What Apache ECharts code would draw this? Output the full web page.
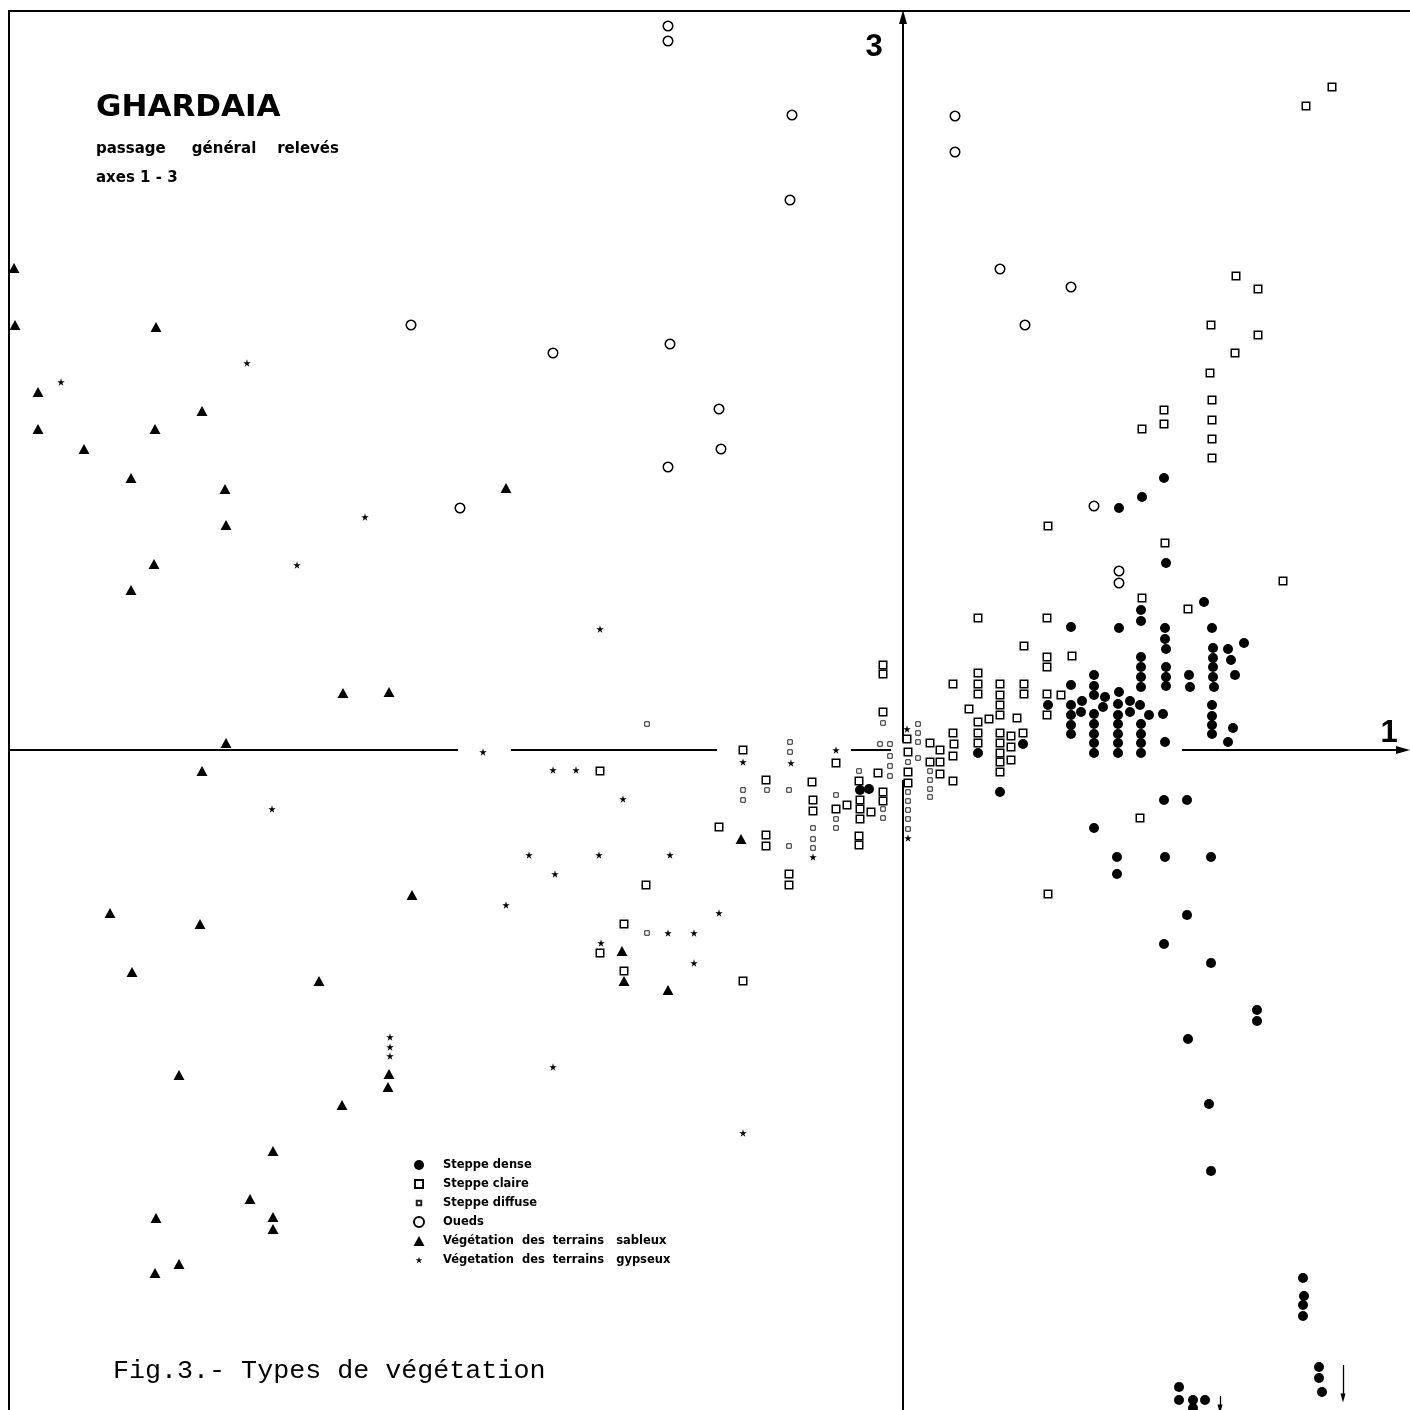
<!DOCTYPE html>
<html>
<head>
<meta charset="utf-8">
<script src="https://cdn.jsdelivr.net/npm/echarts@6/dist/echarts.min.js"></script>
<style>
  html, body { margin: 0; padding: 0; background: #fff; }
  #chart { width: 1410px; height: 1410px; }
</style>
</head>
<body>
<div id="chart"></div>
<script>
// Vegetation types (legend order)
const typeNames = [
  'Steppe dense',
  'Steppe claire',
  'Steppe diffuse',
  'Oueds',
  'Végétation  des  terrains   sableux',
  'Végetation  des  terrains   gypseux'
];

// Relevé scores on factorial axes 1 (horizontal) and 3 (vertical)
const steppeDense = [
  [2.61,2.72],[2.39,2.53],[2.16,2.42],[2.63,1.87],[3.01,1.48],[2.38,1.40],[2.38,1.29],
  [1.68,1.23],[2.16,1.22],[2.62,1.22],[2.62,1.11],[2.63,1.01],[3.09,1.22],[3.41,1.07],
  [3.10,1.02],[3.25,1.01],[3.10,0.92],[3.28,0.90],[3.10,0.83],[3.10,0.73],[3.11,0.63],
  [3.32,0.75],[2.38,0.93],[2.38,0.83],[2.38,0.73],[2.38,0.63],[2.63,0.83],[2.63,0.73],
  [2.63,0.64],[2.86,0.75],[2.87,0.63],[1.91,0.75],[1.91,0.64],[1.91,0.55],[1.68,0.65],
  [2.16,0.58],[2.02,0.53],[1.79,0.49],[1.45,0.45],[1.68,0.45],[2.27,0.49],[2.37,0.45],
  [2.00,0.43],[2.15,0.46],[1.78,0.38],[2.27,0.38],[1.68,0.35],[1.91,0.36],[2.15,0.35],
  [2.46,0.35],[2.60,0.36],[3.09,0.45],[3.09,0.34],[3.09,0.25],[3.09,0.16],[3.30,0.22],
  [3.25,0.08],[1.68,0.25],[1.68,0.16],[1.91,0.26],[1.91,0.16],[1.91,0.07],[1.91,-0.03],
  [2.15,0.26],[2.15,0.16],[2.15,0.07],[2.15,-0.03],[2.38,0.26],[2.38,0.16],[2.38,0.07],
  [2.38,-0.03],[2.62,0.08],[1.20,0.06],[0.75,-0.03],[0.97,-0.42],[-0.43,-0.40],[-0.34,-0.39],
  [2.61,-0.50],[2.84,-0.50],[1.91,-0.78],[2.14,-1.07],[2.62,-1.07],[3.08,-1.07],[2.14,-1.24],
  [2.84,-1.65],[2.61,-1.94],[3.08,-2.13],[3.54,-2.60],[3.54,-2.71],[2.85,-2.89],[3.06,-3.54],
  [3.08,-4.21],[4.00,-5.28],[4.01,-5.46],[4.00,-5.55],[4.00,-5.66],[4.16,-6.17],[4.16,-6.28],
  [4.19,-6.42],[2.76,-6.37],[2.76,-6.50],[2.90,-6.50],[3.02,-6.50],[2.90,-6.58]
];

const steppeClaire = [
  [4.29,6.63],[4.03,6.44],[3.33,4.74],[3.55,4.61],[3.08,4.25],[3.55,4.15],[3.32,3.97],
  [3.07,3.77],[3.09,3.50],[3.09,3.30],[3.09,3.11],[3.09,2.92],[2.61,3.40],[2.61,3.26],
  [2.39,3.21],[1.45,2.24],[2.62,2.07],[3.80,1.69],[2.39,1.52],[2.85,1.41],
  [0.75,1.32],[1.44,1.32],[1.21,1.04],[1.44,0.93],[1.44,0.83],[1.69,0.94],[0.75,0.77],
  [0.75,0.66],[0.75,0.56],[0.50,0.66],[0.97,0.66],[0.97,0.55],[0.97,0.45],[0.97,0.35],
  [1.21,0.66],[1.21,0.56],[1.44,0.56],[1.58,0.55],[1.44,0.35],[0.66,0.41],[0.86,0.31],
  [1.14,0.32],[0.75,0.28],[0.75,0.17],[0.75,0.07],[0.97,0.17],[0.97,0.07],[0.97,-0.03],
  [0.97,-0.12],[0.97,-0.22],[1.08,0.14],[1.08,0.03],[1.08,-0.10],[1.20,0.17],[0.50,0.17],
  [0.51,0.06],[0.50,-0.06],[0.50,-0.31],[0.27,0.07],[0.37,0.00],[0.27,-0.12],[0.37,-0.12],
  [0.37,-0.24],[0.04,0.11],[0.05,-0.02],[0.05,-0.22],[0.05,-0.33],[2.37,-0.68],[1.45,-1.44],
  [-0.20,0.85],[-0.20,0.76],[-0.20,0.38],[-0.25,-0.23],[-0.44,-0.31],[-0.20,-0.42],[-0.20,-0.51],
  [-0.43,-0.50],[-0.43,-0.59],[-0.43,-0.69],[-0.56,-0.55],[-0.32,-0.62],[-0.67,-0.59],[-0.44,-0.86],
  [-0.44,-0.95],[-0.67,-0.13],[-1.60,0.00],[-1.37,-0.30],[-0.91,-0.32],[-0.90,-0.50],[-0.90,-0.61],
  [-1.84,-0.77],[-1.37,-0.85],[-1.37,-0.96],[-1.14,-1.24],[-1.14,-1.35],
  [-3.03,-0.21],[-2.57,-1.35],[-2.79,-1.74],[-3.03,-2.03],[-2.79,-2.21],[-1.60,-2.31]
];

const steppeDiffuse = [
  [-2.56,0.26],[-2.56,-1.83],[-0.20,0.27],[0.15,0.26],[0.15,0.17],[0.15,0.08],[0.15,-0.08],
  [0.05,-0.12],[0.05,-0.42],[0.05,-0.51],[0.05,-0.60],[0.05,-0.69],[0.05,-0.79],[0.27,-0.21],
  [0.27,-0.30],[0.27,-0.39],[0.27,-0.47],[-0.23,0.06],[-0.13,0.06],[-0.13,-0.06],[-0.13,-0.16],
  [-0.13,-0.26],[-0.44,-0.21],[-0.20,-0.59],[-0.20,-0.68],[-0.67,-0.69],[-0.67,-0.78],[-0.67,-0.45],
  [-1.36,-0.40],[-1.60,-0.40],[-1.60,-0.50],[-1.14,-0.40],[-0.90,-0.78],[-0.90,-0.89],[-0.90,-0.98],
  [-1.14,-0.96],[-1.13,0.08],[-1.13,-0.02]
];

const oueds = [
  [-2.35,7.24],[-2.35,7.09],[-1.11,6.35],[-1.13,5.50],[0.52,6.34],[0.52,5.98],[-4.92,4.25],
  [-3.50,3.97],[-2.33,4.06],[-1.84,3.41],[-1.82,3.01],[-2.35,2.83],[-4.43,2.42],[0.97,4.81],
  [1.68,4.63],[1.22,4.25],[1.91,2.44],[2.16,1.79],[2.16,1.67]
];

const sableux = [
  [-8.89,4.82],[-8.88,4.25],[-7.47,4.23],[-8.65,3.58],[-7.01,3.39],[-8.65,3.21],[-7.48,3.21],
  [-8.19,3.01],[-7.72,2.72],[-6.78,2.61],[-6.77,2.25],[-7.49,1.86],[-7.72,1.60],[-5.60,0.57],
  [-5.14,0.58],[-6.77,0.07],[-7.01,-0.21],[-3.97,2.62],[-4.91,-1.45],[-7.93,-1.63],[-7.03,-1.74],
  [-1.62,-0.89],[-2.81,-2.01],[-2.79,-2.31],[-2.35,-2.40],[-7.71,-2.22],[-5.84,-2.31],[-5.14,-3.24],
  [-5.15,-3.37],[-7.24,-3.25],[-5.61,-3.55],[-6.30,-4.01],[-6.53,-4.49],[-7.47,-4.68],[-6.30,-4.67],
  [-6.30,-4.79],[-7.24,-5.14],[-7.48,-5.23]
];

const gypseux = [
  [-8.42,3.68],[-6.56,3.87],[-5.38,2.33],[-6.06,1.85],[-3.03,1.21],[-4.20,-0.02],[-6.31,-0.59],
  [-3.50,-0.20],[-3.27,-0.20],[-2.80,-0.49],[-3.74,-1.05],[-3.04,-1.05],[-2.33,-1.05],[-3.48,-1.24],
  [-3.97,-1.55],[-1.84,-1.63],[-2.35,-1.83],[-2.09,-1.83],[-3.02,-1.93],[-2.09,-2.13],[-5.13,-2.87],
  [-5.13,-2.97],[-5.13,-3.06],[-3.50,-3.17],[-1.60,-3.83],[-1.60,-0.12],[-1.12,-0.13],[-0.67,0.00],
  [-0.90,-1.07],[0.04,0.21],[0.05,-0.88]
];

// Pieces of the factorial axes (left open where relevés sit on them)
const axis1Pieces = [[-8.94,-4.45],[-3.92,-1.86],[-0.52,-0.12],[2.79,5.00]];
const axis3Pieces = [[-6.60,-0.30],[0.08,7.33]];
// Arrows for relevés lying beyond the lower edge
const beyondArrows = [[4.40,-6.15,-6.48],[3.17,-6.46,-6.59]];

const STAR = 'path://M50,0L61,35L98,35L68,57L79,91L50,70L21,91L32,57L2,35L39,35Z';
// Legend icons: an invisible 38x10 frame (move-to corners) keeps each mark at its own size
const ICON_SQUARE = 'path://M0,0M38,10M15,1h8v8h-8z';
const ICON_SMALL_SQUARE = 'path://M0,0M38,10M16.75,2.75h4.5v4.5h-4.5z';
const ICON_TRIANGLE = 'path://M0,0M38,10M19,0L24.5,10L13.5,10Z';
const ICON_STAR = 'path://M-221.5,-26M321.5,117M50,0L61,35L98,35L68,57L79,91L50,70L21,91L32,57L2,35L39,35Z';

const axisLines = [];
axis1Pieces.forEach((p, i) => {
  const last = i === axis1Pieces.length - 1;
  axisLines.push([
    { coord: [p[0], 0], symbol: 'none' },
    { coord: [p[1], 0], symbol: last ? 'triangle' : 'none', symbolSize: [8, 14] }
  ]);
});
axis3Pieces.forEach((p, i) => {
  const last = i === axis3Pieces.length - 1;
  axisLines.push([
    { coord: [0, p[0]], symbol: 'none' },
    { coord: [0, p[1]], symbol: last ? 'triangle' : 'none', symbolSize: [8, 14] }
  ]);
});
const arrowLines = beyondArrows.map(a => [
  { coord: [a[0], a[1]], symbol: 'none' },
  { coord: [a[0], a[2]], symbol: 'triangle', symbolSize: [5, 9] }
]);

const hidden = {
  axisTick: { show: false },
  axisLabel: { show: false },
  splitLine: { show: false }
};
const frameLine = { show: true, onZero: false, lineStyle: { color: '#000', width: 2 } };

const chart = echarts.init(document.getElementById('chart'));

const option = {
  backgroundColor: '#fff',
  animation: false,
  grid: { left: 9, top: 11, right: 0, bottom: 0 },
  xAxis: Object.assign({ type: 'value', min: -8.94, max: 5.07, position: 'top', axisLine: frameLine }, hidden),
  yAxis: Object.assign({ type: 'value', min: -6.60, max: 7.39, position: 'left', axisLine: frameLine }, hidden),
  legend: {
    orient: 'vertical',
    left: 399,
    top: 1159,
    padding: 0,
    itemWidth: 38,
    itemHeight: 10,
    itemGap: 7,
    selectedMode: false,
    textStyle: { fontFamily: 'DejaVu Sans', fontWeight: 'bold', fontSize: 11.5, color: '#000' },
    data: [
      { name: typeNames[0], icon: 'circle' },
      { name: typeNames[1], icon: ICON_SQUARE },
      { name: typeNames[2], icon: ICON_SMALL_SQUARE },
      { name: typeNames[3], icon: 'circle' },
      { name: typeNames[4], icon: ICON_TRIANGLE },
      { name: typeNames[5], icon: ICON_STAR }
    ]
  },
  graphic: [
    { type: 'text', x: 96, y: 108, silent: true,
      style: { text: 'GHARDAIA', font: 'bold 31px "DejaVu Sans"', fill: '#000', align: 'left', verticalAlign: 'middle' } },
    { type: 'text', x: 96, y: 149, silent: true,
      style: { text: 'passage     général    relevés', font: 'bold 15px "DejaVu Sans"', fill: '#000', align: 'left', verticalAlign: 'middle' } },
    { type: 'text', x: 96, y: 178, silent: true,
      style: { text: 'axes 1 - 3', font: 'bold 15px "DejaVu Sans"', fill: '#000', align: 'left', verticalAlign: 'middle' } },
    { type: 'text', x: 874, y: 47, silent: true,
      style: { text: '3', font: 'bold 31px "Liberation Sans"', fill: '#000', align: 'center', verticalAlign: 'middle' } },
    { type: 'text', x: 1389, y: 733, silent: true,
      style: { text: '1', font: 'bold 31px "Liberation Sans"', fill: '#000', align: 'center', verticalAlign: 'middle' } },
    { type: 'text', x: 113, y: 1371, silent: true,
      style: { text: 'Fig.3.- Types de végétation', font: '26.7px "Liberation Mono"', fill: '#000', align: 'left', verticalAlign: 'middle' } }
  ],
  series: [
    {
      type: 'scatter', name: 'axes', data: [], z: 1, silent: true,
      markLine: {
        silent: true, animation: false,
        symbol: ['none', 'none'],
        label: { show: false },
        lineStyle: { color: '#000', width: 2, type: 'solid' },
        emphasis: { disabled: true },
        data: axisLines
      }
    },
    {
      type: 'scatter', name: 'beyond', data: [], z: 1, silent: true,
      markLine: {
        silent: true, animation: false,
        symbol: ['none', 'none'],
        label: { show: false },
        lineStyle: { color: '#000', width: 1.3, type: 'solid' },
        emphasis: { disabled: true },
        data: arrowLines
      }
    },
    {
      type: 'scatter', name: typeNames[1], data: steppeClaire, z: 3,
      symbol: 'rect', symbolSize: 7.5,
      itemStyle: { color: '#fff', borderColor: '#000', borderWidth: 1.5, opacity: 1 },
      emphasis: { disabled: true }
    },
    {
      type: 'scatter', name: typeNames[2], data: steppeDiffuse, z: 3,
      symbol: 'rect', symbolSize: 4.5,
      itemStyle: { color: '#fff', borderColor: '#222', borderWidth: 1, opacity: 1 },
      emphasis: { disabled: true }
    },
    {
      type: 'scatter', name: typeNames[0], data: steppeDense, z: 4,
      symbol: 'circle', symbolSize: 10,
      itemStyle: { color: '#000', opacity: 1 },
      emphasis: { disabled: true }
    },
    {
      type: 'scatter', name: typeNames[3], data: oueds, z: 3,
      symbol: 'circle', symbolSize: 9.5,
      itemStyle: { color: '#fff', borderColor: '#000', borderWidth: 1.5, opacity: 1 },
      emphasis: { disabled: true }
    },
    {
      type: 'scatter', name: typeNames[4], data: sableux, z: 3,
      symbol: 'triangle', symbolSize: [11, 10],
      itemStyle: { color: '#000', opacity: 1 },
      emphasis: { disabled: true }
    },
    {
      type: 'scatter', name: typeNames[5], data: gypseux, z: 4,
      symbol: STAR, symbolSize: 7.5,
      itemStyle: { color: '#000', opacity: 1 },
      emphasis: { disabled: true }
    }
  ]
};

chart.setOption(option);
</script>
</body>
</html>
